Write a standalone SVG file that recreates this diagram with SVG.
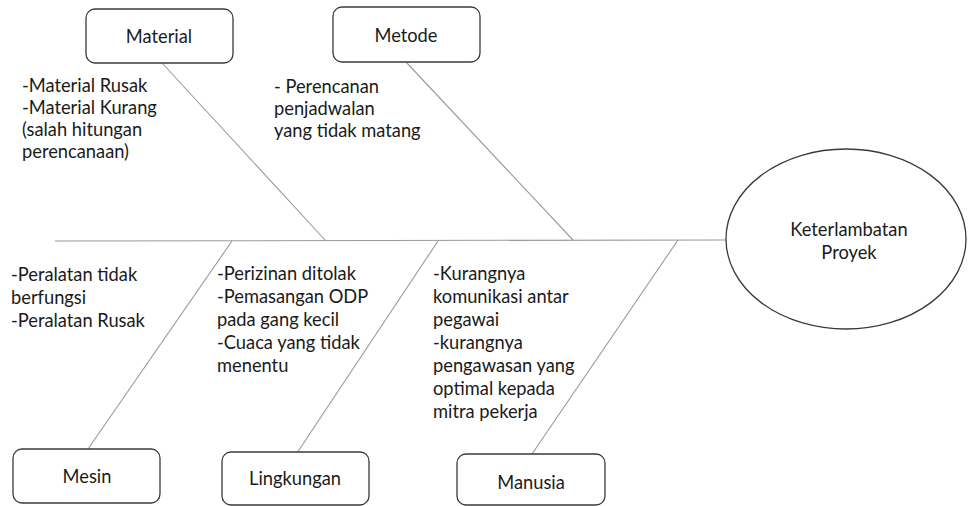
<svg xmlns="http://www.w3.org/2000/svg" width="968" height="506" viewBox="0 0 968 506">
<style>
.box{fill:#fff;stroke:#3a3a3a;stroke-width:1.3}
.ln{stroke:#9a9a9a;stroke-width:1.1;fill:none}
text{font-family:Lato,"Liberation Sans",sans-serif;font-size:18.3px;fill:#1a1a1a}
.c{text-anchor:middle}
</style>
<rect width="968" height="506" fill="#fff"/>
<g id="connectors">
<line class="ln" x1="55" y1="241" x2="727" y2="240"/>
<line class="ln" x1="162" y1="63" x2="326" y2="241"/>
<line class="ln" x1="406" y1="62" x2="573" y2="240"/>
<line class="ln" x1="232" y1="241" x2="88" y2="449"/>
<line class="ln" x1="438" y1="241" x2="297" y2="453"/>
<line class="ln" x1="678" y1="240" x2="532" y2="454"/>
</g>
<g id="material">
<rect class="box" x="86" y="9" width="147" height="54" rx="9"/>
<text class="c" x="159" y="43">Material</text>
</g>
<g id="metode">
<rect class="box" x="333" y="7" width="147" height="55" rx="9"/>
<text class="c" x="406" y="42">Metode</text>
</g>
<g id="mesin">
<rect class="box" x="13" y="449" width="147" height="54" rx="9"/>
<text class="c" x="87" y="483">Mesin</text>
</g>
<g id="lingkungan">
<rect class="box" x="222" y="452" width="147" height="53" rx="9"/>
<text class="c" x="295" y="485">Lingkungan</text>
</g>
<g id="manusia">
<rect class="box" x="457" y="454" width="148" height="51" rx="9"/>
<text class="c" x="531" y="489">Manusia</text>
</g>
<g id="keterlambatan">
<ellipse class="box" cx="846" cy="239" rx="120" ry="90"/>
<text class="c" x="849" y="236">Keterlambatan<tspan x="849" dy="23">Proyek</tspan></text>
</g>
<g id="material-causes">
<text x="22" y="92">-Material Rusak<tspan x="22" dy="22">-Material Kurang</tspan><tspan x="22" dy="22">(salah hitungan</tspan><tspan x="22" dy="22">perencanaan)</tspan></text>
</g>
<g id="metode-causes">
<text x="274" y="93">- Perencanan<tspan x="274" dy="22">penjadwalan</tspan><tspan x="274" dy="22">yang tidak matang</tspan></text>
</g>
<g id="mesin-causes">
<text x="11" y="281">-Peralatan tidak<tspan x="11" dy="23">berfungsi</tspan><tspan x="11" dy="23">-Peralatan Rusak</tspan></text>
</g>
<g id="lingkungan-causes">
<text x="217" y="280">-Perizinan ditolak<tspan x="217" dy="23">-Pemasangan ODP</tspan><tspan x="217" dy="23">pada gang kecil</tspan><tspan x="217" dy="23">-Cuaca yang tidak</tspan><tspan x="217" dy="23">menentu</tspan></text>
</g>
<g id="manusia-causes">
<text x="433" y="280">-Kurangnya<tspan x="433" dy="23">komunikasi antar</tspan><tspan x="433" dy="23">pegawai</tspan><tspan x="433" dy="23">-kurangnya</tspan><tspan x="433" dy="23">pengawasan yang</tspan><tspan x="433" dy="23">optimal kepada</tspan><tspan x="433" dy="23">mitra pekerja</tspan></text>
</g>
</svg>
